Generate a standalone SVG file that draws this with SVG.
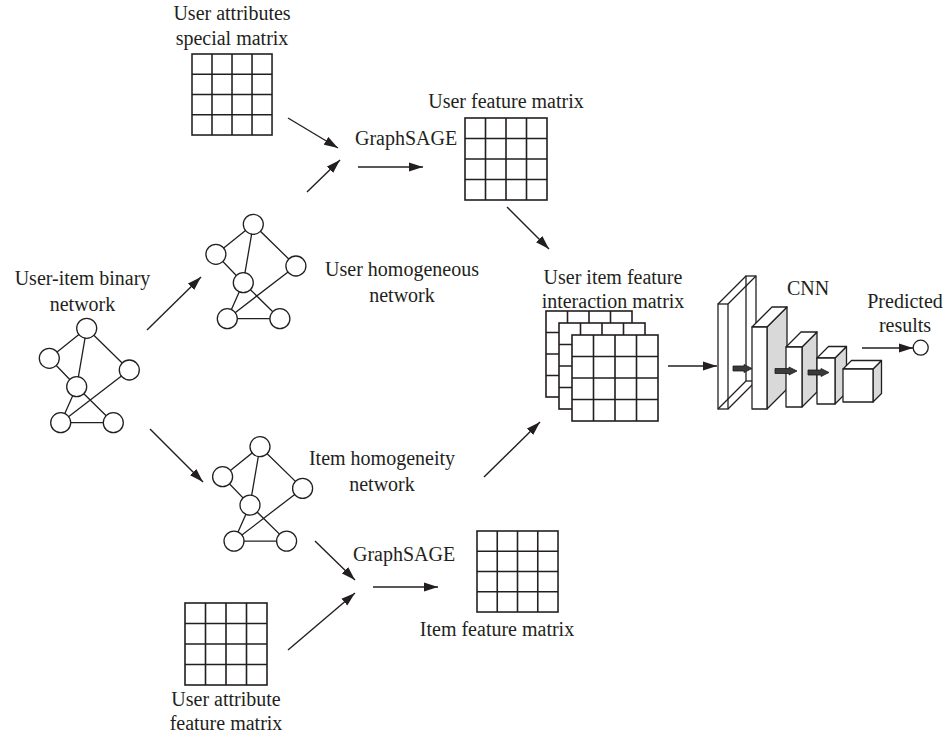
<svg xmlns="http://www.w3.org/2000/svg" xmlns:xlink="http://www.w3.org/1999/xlink" width="948" height="738" viewBox="0 0 948 738">
<style>
text{font-family:"Liberation Serif","Times New Roman",serif;font-size:20px;fill:#231f20}
.m{text-anchor:middle}
.grid{fill:#fff;stroke:#231f20;stroke-width:1.6}
.edge{stroke:#231f20;stroke-width:1.3;fill:none}
.node{fill:#fff;stroke:#231f20;stroke-width:1.3}
.arr{stroke:#231f20;stroke-width:1.4;fill:none;marker-end:url(#ah)}
.box{fill:#fff;stroke:#231f20;stroke-width:1.3;stroke-linejoin:round}
.side{fill:#d9d9d9;stroke:#231f20;stroke-width:1.3;stroke-linejoin:round}
.wire{fill:none;stroke:#231f20;stroke-width:1.3}
.sa{fill:#3a3a3a;stroke:#1a1a1a;stroke-width:0.8}
</style>
<defs>
<marker id="ah" markerUnits="userSpaceOnUse" markerWidth="15" markerHeight="10" refX="14" refY="5" orient="auto">
<path d="M0,0.5 L14,5 L0,9.5 z" fill="#231f20"/>
</marker>
<g id="net">
<path class="edge" d="M0,0 L-37.4,30 M0,0 L-10,58.4 M0,0 L42.6,41.7 M-37.4,30 L-10,58.4 M-10,58.4 L-26,94.4 M-10,58.4 L26.6,94.4 M42.6,41.7 L-26,94.4 M-26,94.4 L26.6,94.4"/>
<circle class="node" cx="0" cy="0" r="10"/>
<circle class="node" cx="-37.4" cy="30" r="10"/>
<circle class="node" cx="42.6" cy="41.7" r="10"/>
<circle class="node" cx="-10" cy="58.4" r="10"/>
<circle class="node" cx="-26" cy="94.4" r="10"/>
<circle class="node" cx="26.6" cy="94.4" r="10"/>
</g>
<g id="mat">
<rect class="grid" x="0" y="0" width="82" height="82"/>
<path class="grid" d="M20.5,0V82M41,0V82M61.5,0V82M0,20.5H82M0,41H82M0,61.5H82"/>
</g>
<g id="mat86">
<rect class="grid" x="0" y="0" width="86" height="86"/>
<path class="grid" d="M21.5,0V86M43,0V86M64.5,0V86M0,21.5H86M0,43H86M0,64.5H86"/>
</g>
</defs>

<g id="user-attr-special">
<use xlink:href="#mat" transform="translate(192,54) scale(0.976,0.988)"/>
<text class="m" x="232" y="20">User attributes</text>
<text class="m" x="232" y="45">special matrix</text>
</g>

<g id="user-feature-matrix">
<use xlink:href="#mat" transform="translate(465,118)"/>
<text class="m" x="506" y="108">User feature matrix</text>
</g>

<g id="graphsage-top"><text x="355" y="145">GraphSAGE</text></g>

<g id="user-item-binary">
<use xlink:href="#net" transform="translate(86.7,328.3)"/>
<text class="m" x="82.5" y="285">User-item binary</text>
<text class="m" x="82.5" y="311">network</text>
</g>

<g id="user-homogeneous">
<use xlink:href="#net" transform="translate(253.3,224.3)"/>
<text class="m" x="402" y="276">User homogeneous</text>
<text class="m" x="402" y="302">network</text>
</g>

<g id="item-homogeneity">
<use xlink:href="#net" transform="translate(260,446.7)"/>
<text class="m" x="382" y="465">Item homogeneity</text>
<text class="m" x="382" y="491">network</text>
</g>

<g id="interaction-matrix">
<use xlink:href="#mat86" transform="translate(546,311)"/>
<use xlink:href="#mat86" transform="translate(559,323)"/>
<use xlink:href="#mat86" transform="translate(572,335)"/>
<text class="m" x="613" y="284">User item feature</text>
<text class="m" x="613" y="308">interaction matrix</text>
</g>

<g id="cnn">
<rect class="wire" x="746" y="276" width="10" height="105"/>
<path class="wire" d="M718,304 L746,276 M728,304 L756,276 M718,409 L746,381 M728,409 L756,381"/>
<rect class="wire" x="718" y="304" width="10" height="105"/>
<polygon class="side" points="767,327 787,307 787,389 767,409"/>
<polygon class="box" points="752,327 772,307 787,307 767,327"/>
<rect class="box" x="752" y="327" width="15" height="82"/>
<polygon class="side" points="802,347 817,332 817,392 802,407"/>
<polygon class="box" points="786,347 801,332 817,332 802,347"/>
<rect class="box" x="786" y="347" width="16" height="60"/>
<polygon class="side" points="835,358 846.5,346.5 846.5,392.5 835,404"/>
<polygon class="box" points="817,358 828.5,346.5 846.5,346.5 835,358"/>
<rect class="box" x="817" y="358" width="18" height="46"/>
<polygon class="side" points="873,369 881.5,360.5 881.5,393.5 873,402"/>
<polygon class="box" points="843,369 851.5,360.5 881.5,360.5 873,369"/>
<rect class="box" x="843" y="369" width="30" height="33"/>
<polygon class="sa" points="733,366 744,366 744,364.5 752,368.5 744,372.5 744,371 733,371"/>
<polygon class="sa" points="775,368.5 789,368.5 789,367 797,371 789,375 789,373.5 775,373.5"/>
<polygon class="sa" points="808,370 821,370 821,368.5 829,372.5 821,376.5 821,375 808,375"/>
<text class="m" x="808" y="295">CNN</text>
</g>

<g id="predicted">
<circle class="node" cx="920.7" cy="347.7" r="7.5"/>
<text class="m" x="905" y="308">Predicted</text>
<text class="m" x="905" y="332">results</text>
</g>

<g id="graphsage-bottom"><text x="353" y="561">GraphSAGE</text></g>

<g id="item-feature-matrix">
<use xlink:href="#mat" transform="translate(477,531) scale(0.988)"/>
<text class="m" x="497" y="636">Item feature matrix</text>
</g>

<g id="user-attr-feature">
<use xlink:href="#mat" transform="translate(185,603)"/>
<text class="m" x="226" y="706">User attribute</text>
<text class="m" x="226" y="730">feature matrix</text>
</g>

<g id="connectors">
<line class="arr" x1="288" y1="118" x2="338" y2="148"/>
<line class="arr" x1="307" y1="192" x2="340" y2="160"/>
<line class="arr" x1="358" y1="167" x2="423" y2="167"/>
<line class="arr" x1="507" y1="207" x2="549" y2="249"/>
<line class="arr" x1="147" y1="330" x2="201" y2="277"/>
<line class="arr" x1="150" y1="429" x2="203" y2="482"/>
<line class="arr" x1="484" y1="477" x2="540" y2="422"/>
<line class="arr" x1="668" y1="366" x2="717" y2="366"/>
<line class="arr" x1="862" y1="348" x2="913" y2="348"/>
<line class="arr" x1="315" y1="541" x2="355" y2="580"/>
<line class="arr" x1="288" y1="650" x2="355" y2="593"/>
<line class="arr" x1="373" y1="587" x2="438" y2="587"/>
</g>
</svg>
